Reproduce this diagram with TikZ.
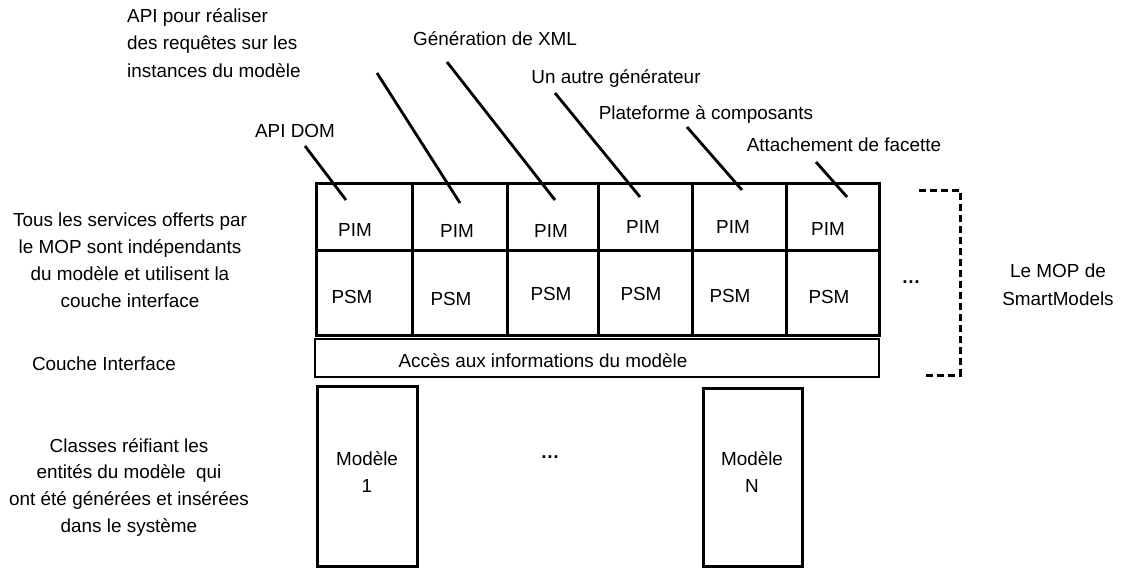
\documentclass[tikz,border=0pt]{standalone}
\usepackage{fontspec}
\setmainfont{Liberation Sans}
\newcommand{\mlc}[1]{\begin{tabular}[t]{@{}c@{}}#1\end{tabular}}
\newcommand{\mll}[1]{\begin{tabular}[t]{@{}l@{}}#1\end{tabular}}
\begin{document}
\begin{tikzpicture}[x=1pt,y=-1pt,
  txt/.style={font=\fontsize{18.9}{27.3}\selectfont, inner sep=0pt, anchor=base},
  cell/.style={draw, line width=3pt, inner sep=0pt},
  bar/.style={draw, line width=2.5pt, inner sep=0pt},
  callout/.style={line width=2.8pt},
  bracket/.style={line width=3pt, dash pattern=on 7pt off 4pt}]
\useasboundingbox (0,0) rectangle (1126,568);

% PIM row
\node[cell, minimum width=96pt, minimum height=67pt] (pim1) at (364,216.5) {};
\node[cell, minimum width=95pt, minimum height=67pt] (pim2) at (459.5,216.5) {};
\node[cell, minimum width=91pt, minimum height=67pt] (pim3) at (552.5,216.5) {};
\node[cell, minimum width=94pt, minimum height=67pt] (pim4) at (645,216.5) {};
\node[cell, minimum width=94pt, minimum height=67pt] (pim5) at (739,216.5) {};
\node[cell, minimum width=93pt, minimum height=67pt] (pim6) at (832.5,216.5) {};
% PSM row
\node[cell, minimum width=96pt, minimum height=85pt] (psm1) at (364,292.5) {};
\node[cell, minimum width=95pt, minimum height=85pt] (psm2) at (459.5,292.5) {};
\node[cell, minimum width=91pt, minimum height=85pt] (psm3) at (552.5,292.5) {};
\node[cell, minimum width=94pt, minimum height=85pt] (psm4) at (645,292.5) {};
\node[cell, minimum width=94pt, minimum height=85pt] (psm5) at (739,292.5) {};
\node[cell, minimum width=93pt, minimum height=85pt] (psm6) at (832.5,292.5) {};

% cell texts
\node[txt] (tpim1) at (355,236) {PIM};
\node[txt] (tpim2) at (457,237) {PIM};
\node[txt] (tpim3) at (551,237) {PIM};
\node[txt] (tpim4) at (643,233) {PIM};
\node[txt] (tpim5) at (733,233) {PIM};
\node[txt] (tpim6) at (828,235) {PIM};
\node[txt] (tpsm1) at (352,303) {PSM};
\node[txt] (tpsm2) at (451,305) {PSM};
\node[txt] (tpsm3) at (551,300) {PSM};
\node[txt] (tpsm4) at (641,300) {PSM};
\node[txt] (tpsm5) at (730,302) {PSM};
\node[txt] (tpsm6) at (829,303) {PSM};

% interface bar
\node[bar, minimum width=564pt, minimum height=38pt] (iface) at (597,358) {};
\node[txt] (tiface) at (543,367) {Accès aux informations du modèle};

% models
\node[cell, minimum width=100pt, minimum height=180pt] (m1) at (367,476) {};
\node[cell, minimum width=99pt, minimum height=178pt] (mN) at (752.5,477) {};
\node[txt] (tm1) at (367,465) {\mlc{Modèle\\1}};
\node[txt] (tmN) at (752,465) {\mlc{Modèle\\N}};
\node[txt] (dotsm) at (550,458) {\textbf{…}};
\node[txt] (dotsr) at (911,283) {\textbf{…}};

% top labels
\node[txt, anchor=base west, font=\fontsize{18.9}{27.8}\selectfont] (lapi) at (127,22) {\mll{API pour réaliser\\des requêtes sur les\\instances du modèle}};
\node[txt] (ldom) at (295,137) {API DOM};
\node[txt] (lxml) at (495,45) {Génération de XML};
\node[txt] (lgen) at (616,83) {Un autre générateur};
\node[txt] (lplat) at (706,119) {Plateforme à composants};
\node[txt] (latt) at (844,151) {Attachement de facette};

% callout lines
\coordinate (s1) at (305,146); \coordinate (e1) at (346,200);
\coordinate (s2) at (377,73);  \coordinate (e2) at (460,203);
\coordinate (s3) at (447,62);  \coordinate (e3) at (555,200);
\coordinate (s4) at (555,93);  \coordinate (e4) at (640,197);
\coordinate (s5) at (687,127); \coordinate (e5) at (742,190);
\coordinate (s6) at (816,162); \coordinate (e6) at (847,197);
\draw[callout] (s1) -- (e1);
\draw[callout] (s2) -- (e2);
\draw[callout] (s3) -- (e3);
\draw[callout] (s4) -- (e4);
\draw[callout] (s5) -- (e5);
\draw[callout] (s6) -- (e6);

% left texts
\node[txt] (lserv) at (130,226) {\mlc{Tous les services offerts par\\le MOP sont indépendants\\du modèle et utilisent la\\couche interface}};
\node[txt] (lcouche) at (104,370) {Couche Interface};
\node[txt, font=\fontsize{18.9}{26.7}\selectfont] (lclass) at (129,452) {\mlc{Classes réifiant les\\entités du modèle~ qui\\ont été générées et insérées\\dans le système}};

% bracket
\coordinate (b1) at (919,190); \coordinate (b2) at (960,190);
\coordinate (b3) at (960,375); \coordinate (b4) at (923,375);
\draw[bracket] (b1) -- (b2) -- (b3) -- (b4);
\node[txt, font=\fontsize{18.9}{28}\selectfont] (lmop) at (1058,277) {\mlc{Le MOP de\\SmartModels}};
\end{tikzpicture}
\end{document}
